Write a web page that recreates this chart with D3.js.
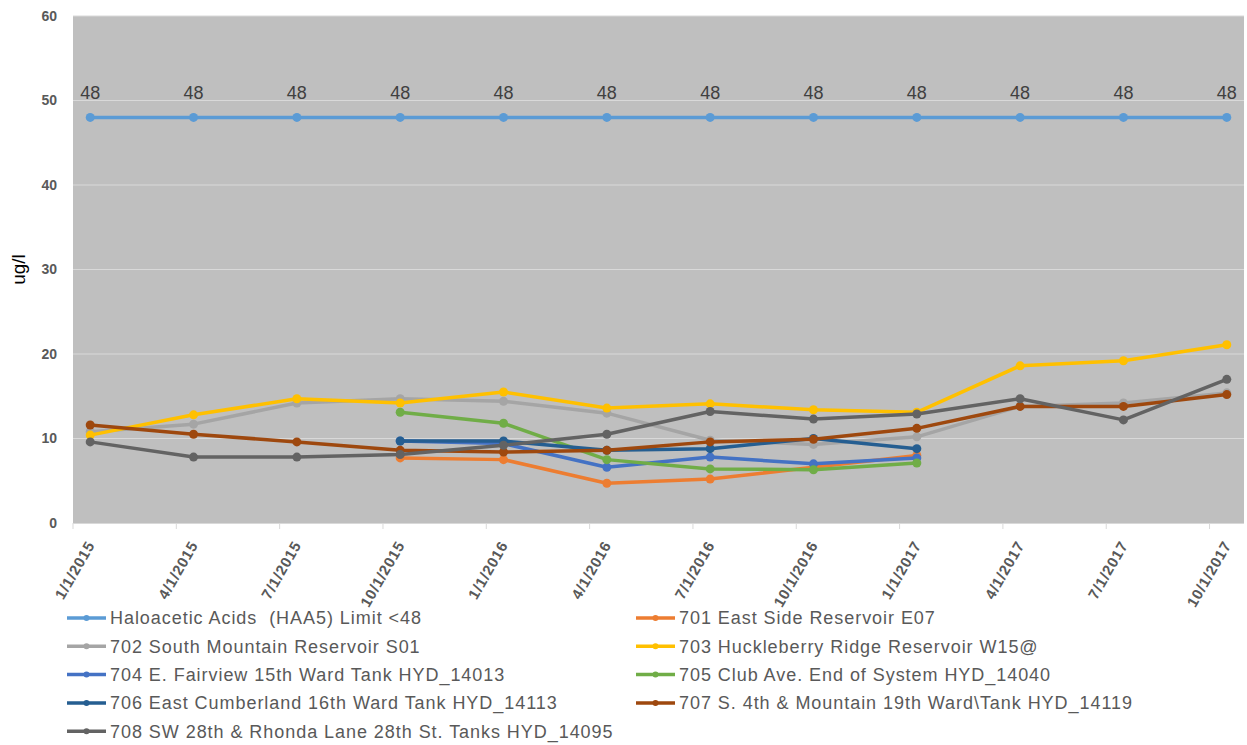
<!DOCTYPE html>
<html lang="en">
<head>
<meta charset="UTF-8">
<title>HAA5 by site</title>
<script src="https://d3js.org/d3.v7.min.js"></script>
<style>
  body { margin: 0; background: #fff; }
  svg { display: block; font-family: "Liberation Sans", Arial, sans-serif; }
  .ytick { font-weight: bold; fill: #595959; font-size: 14px; }
  .xtick { font-weight: bold; fill: #595959; font-size: 15px; letter-spacing: 0.7px; }
  .legend text { fill: #595959; font-size: 18px; letter-spacing: 0.95px; white-space: pre; }
  .dlabel { fill: #404040; font-size: 18px; }
</style>
</head>
<body>
<svg width="1247" height="745"></svg>
<script>
// quarterly sample dates (axis labels)
const dates = ["1/1/2015", "4/1/2015", "7/1/2015", "10/1/2015", "1/1/2016", "4/1/2016",
               "7/1/2016", "10/1/2016", "1/1/2017", "4/1/2017", "7/1/2017", "10/1/2017"];

const names = [
  "Haloacetic Acids  (HAA5) Limit <48",
  "701 East Side Reservoir E07",
  "702 South Mountain Reservoir S01",
  "703 Huckleberry Ridge Reservoir W15@",
  "704 E. Fairview 15th Ward Tank HYD_14013",
  "705 Club Ave. End of System HYD_14040",
  "706 East Cumberland 16th Ward Tank HYD_14113",
  "707 S. 4th & Mountain 19th Ward\\Tank HYD_14119",
  "708 SW 28th & Rhonda Lane 28th St. Tanks HYD_14095"
];
const colors = ["#5B9BD5", "#ED7D31", "#A5A5A5", "#FFC000", "#4472C4", "#70AD47", "#255E91", "#9E480E", "#636363"];

const limitVals = [48, 48, 48, 48, 48, 48, 48, 48, 48, 48, 48, 48];
const s701 = [null, null, null, 7.7, 7.5, 4.7, 5.2, 6.6, 8.0, null, null, null];
const s702 = [10.8, 11.7, 14.2, 14.7, 14.4, 13.0, 9.8, 9.3, 10.2, 13.8, 14.2, 15.4];
const s703 = [10.4, 12.8, 14.7, 14.2, 15.5, 13.6, 14.1, 13.4, 13.1, 18.6, 19.2, 21.1];
const s704 = [null, null, null, 9.7, 9.4, 6.6, 7.8, 7.0, 7.7, null, null, null];
const s705 = [null, null, null, 13.1, 11.8, 7.5, 6.4, 6.3, 7.1, null, null, null];
const s706 = [null, null, null, 9.7, 9.7, 8.6, 8.8, 10.0, 8.8, null, null, null];
const s707 = [11.6, 10.5, 9.6, 8.6, 8.4, 8.6, 9.6, 9.9, 11.2, 13.8, 13.8, 15.2];
const s708 = [9.6, 7.8, 7.8, 8.1, 9.2, 10.5, 13.2, 12.3, 12.9, 14.7, 12.2, 17.0];
const yTicks = [0, 10, 20, 30, 40, 50, 60];

const seriesVals = [limitVals, s701, s702, s703, s704, s705, s706, s707, s708];

const svg = d3.select("svg");
const plotL = 73, plotR = 1244, plotT = 16, plotB = 523;

// month index axis: each label is 3 months apart, points sit mid-month
const x = d3.scaleLinear().domain([0, 34]).range([plotL, plotR]);
const y = d3.scaleLinear().domain([0, 60]).range([plotB, plotT]);
const px = i => x(i * 3 + 0.5);

svg.append("rect")
  .attr("x", plotL).attr("y", plotT)
  .attr("width", plotR - plotL).attr("height", plotB - plotT)
  .attr("fill", "#bfbfbf");

// gridlines
svg.append("g").selectAll("line").data(yTicks.slice(1)).join("line")
  .attr("x1", plotL).attr("x2", plotR)
  .attr("y1", d => y(d)).attr("y2", d => y(d))
  .attr("stroke", "#d9d9d9").attr("stroke-width", 1);

// y axis labels
svg.append("g").selectAll("text").data(yTicks).join("text")
  .attr("class", "ytick")
  .attr("x", 57).attr("y", d => y(d))
  .attr("dy", "0.35em").attr("text-anchor", "end")
  .text(d => d);

svg.append("text")
  .attr("transform", `translate(25,${(plotT + plotB) / 2}) rotate(-90)`)
  .attr("text-anchor", "middle")
  .attr("font-size", 19).attr("fill", "#000")
  .text("ug/l");

// x axis line and ticks
svg.append("line")
  .attr("x1", plotL).attr("x2", plotR)
  .attr("y1", plotB + 0.5).attr("y2", plotB + 0.5)
  .attr("stroke", "#d9d9d9");
svg.append("g").selectAll("line").data(dates).join("line")
  .attr("x1", (d, i) => x(i * 3)).attr("x2", (d, i) => x(i * 3))
  .attr("y1", plotB).attr("y2", plotB + 6)
  .attr("stroke", "#d9d9d9");

svg.append("g").selectAll("text").data(dates).join("text")
  .attr("class", "xtick")
  .attr("text-anchor", "end")
  .attr("transform", (d, i) => `translate(${px(i) + 5},${plotB + 22}) rotate(-60)`)
  .text(d => d);

// lines
const line = d3.line()
  .defined(d => d != null)
  .x((d, i) => px(i))
  .y(d => y(d));

seriesVals.forEach((vals, k) => {
  const g = svg.append("g");
  g.append("path")
    .datum(vals)
    .attr("d", line)
    .attr("fill", "none")
    .attr("stroke", colors[k])
    .attr("stroke-width", 3.5)
    .attr("stroke-linejoin", "round");
  g.selectAll("circle").data(vals.map((v, i) => ({ v, i })).filter(d => d.v != null)).join("circle")
    .attr("cx", d => px(d.i)).attr("cy", d => y(d.v))
    .attr("r", 4.5).attr("fill", colors[k]);
});

// data labels on the limit series
svg.append("g").selectAll("text").data(limitVals).join("text")
  .attr("class", "dlabel")
  .attr("x", (d, i) => px(i)).attr("y", d => y(d) - 18)
  .attr("text-anchor", "middle")
  .text(d => d);

// legend, two columns
const legend = svg.append("g").attr("class", "legend");
names.forEach((n, k) => {
  const col = k % 2, row = Math.floor(k / 2);
  const lx = col === 0 ? 67 : 636;
  const ly = 618 + row * 28.3;
  const g = legend.append("g").attr("transform", `translate(${lx},${ly})`);
  g.append("line").attr("x1", 0).attr("x2", 39).attr("y1", 0).attr("y2", 0)
    .attr("stroke", colors[k]).attr("stroke-width", 3.5);
  g.append("circle").attr("cx", 19.5).attr("cy", 0).attr("r", 3).attr("fill", colors[k]);
  g.append("text").attr("x", 43).attr("y", 0).attr("dy", "0.35em").text(n);
});
</script>
</body>
</html>
